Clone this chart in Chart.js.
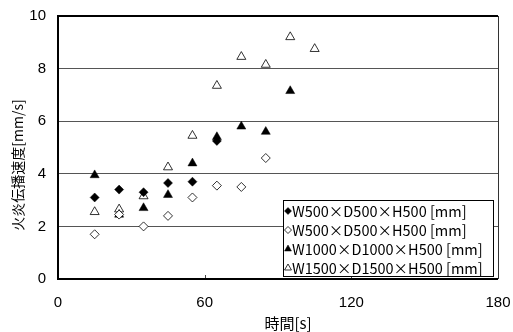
<!DOCTYPE html>
<html>
<head>
<meta charset="utf-8">
<script src="https://cdn.jsdelivr.net/npm/chart.js@4/dist/chart.umd.min.js"></script>
<style>
  body { margin: 0; background: #fff; }
  #wrap { width: 513px; height: 332px; }
</style>
</head>
<body>
<div id="wrap"><canvas id="chart" width="513" height="332"></canvas></div>
<script>
// values
const times = [15, 25, 35, 45, 55, 65, 75, 85, 95, 105];
const w500Filled = [3.1, 3.4, 3.3, 3.65, 3.7, 5.25];
const w500Open = [1.7, 2.45, 2.0, 2.4, 3.1, 3.55, 3.5, 4.6];
const w1000 = [3.95, 2.45, 2.7, 3.2, 4.4, 5.4, 5.8, 5.6, 7.15];
const w1500 = [2.55, 2.65, 3.15, 4.25, 5.45, 7.35, 8.45, 8.15, 9.2, 8.75];

const seriesLabels = [
    'W500×D500×H500 [mm]',
    'W500×D500×H500 [mm]',
    'W1000×D1000×H500 [mm]',
    'W1500×D1500×H500 [mm]'
];
const xTicks = [0, 60, 120, 180];
const yTicks = [0, 2, 4, 6, 8, 10];
const xTitle = '時間[s]';
const yTitle = '火炎伝播速度[mm/s]';

function toPoints(values) {
    return values.map((v, i) => ({ x: times[i], y: v }));
}

function makeSet(label, values, style, filled, radius) {
    return {
        label: label,
        data: toPoints(values),
        pointStyle: style,
        pointRadius: radius,
        pointHoverRadius: radius,
        backgroundColor: filled ? '#000' : '#fff',
        borderColor: '#000',
        pointBorderWidth: filled ? 0.5 : 0.8,
        showLine: false
    };
}

// keep the plot box where the reference has it
function noPadding(s) {
    s.paddingLeft = 0;
    s.paddingRight = 0;
    s.paddingTop = 0;
    s.paddingBottom = 0;
}

// frame, inner ticks, legend box and axis titles
const framePlugin = {
    id: 'frame',
    afterDatasetsDraw(chart) {
        const { ctx, chartArea: a, scales } = chart;
        ctx.save();

        // small tick marks pointing up from the bottom axis
        ctx.strokeStyle = '#444';
        ctx.lineWidth = 1;
        xTicks.slice(1, -1).forEach(t => {
            const x = Math.round(scales.x.getPixelForValue(t)) + 0.5;
            ctx.beginPath();
            ctx.moveTo(x, a.bottom);
            ctx.lineTo(x, a.bottom - 4);
            ctx.stroke();
        });

        // legend box
        const lx = 283, ly = 200, lw = 210, lh = 76;
        ctx.fillStyle = '#fff';
        ctx.fillRect(lx, ly, lw, lh);
        ctx.strokeStyle = '#000';
        ctx.lineWidth = 1;
        ctx.strokeRect(lx + 0.5, ly + 0.5, lw, lh);
        ctx.font = '14.5px "Noto Sans CJK JP"';
        ctx.textBaseline = 'middle';
        ctx.textAlign = 'left';
        chart.data.datasets.forEach((ds, i) => {
            const y = ly + 10 + i * 19;
            ctx.fillStyle = ds.backgroundColor;
            ctx.strokeStyle = '#000';
            ctx.lineWidth = ds.pointBorderWidth;
            Chart.helpers.drawPoint(ctx, {
                pointStyle: ds.pointStyle,
                radius: ds.pointStyle === 'triangle' ? 4 : 3.5,
                borderWidth: ds.pointBorderWidth,
                rotation: 0
            }, lx + 5, y + 1);
            ctx.fillStyle = '#000';
            ctx.fillText(ds.label, lx + 9, y + 1);
        });

        // plot frame
        ctx.strokeStyle = '#000';
        ctx.lineWidth = 2;
        ctx.beginPath();
        ctx.moveTo(a.right, a.top);
        ctx.lineTo(a.left, a.top);
        ctx.lineTo(a.left, a.bottom);
        ctx.lineTo(a.right, a.bottom);
        ctx.stroke();
        ctx.strokeStyle = '#333';
        ctx.lineWidth = 1;
        ctx.beginPath();
        ctx.moveTo(a.right + 0.5, a.top);
        ctx.lineTo(a.right + 0.5, a.bottom);
        ctx.stroke();

        // axis titles
        ctx.fillStyle = '#000';
        ctx.textAlign = 'center';
        ctx.textBaseline = 'middle';
        ctx.font = '15px "Noto Sans CJK JP"';
        ctx.fillText(xTitle, 288, 323);
        ctx.translate(18, 165);
        ctx.rotate(-Math.PI / 2);
        ctx.font = '14px "Noto Sans CJK JP"';
        ctx.fillText(yTitle, 0, 0);
        ctx.restore();
    }
};

Chart.defaults.font.family = '"Liberation Sans", Arial, sans-serif';
Chart.defaults.color = '#000';

new Chart(document.getElementById('chart'), {
    type: 'scatter',
    data: {
        datasets: [
            makeSet(seriesLabels[0], w500Filled, 'rectRot', true, 4.5),
            makeSet(seriesLabels[1], w500Open, 'rectRot', false, 4.5),
            makeSet(seriesLabels[2], w1000, 'triangle', true, 5.2),
            makeSet(seriesLabels[3], w1500, 'triangle', false, 5.2)
        ]
    },
    options: {
        responsive: false,
        animation: false,
        devicePixelRatio: 1,
        layout: { padding: { top: 16, right: 15, left: 0, bottom: 0 } },
        plugins: {
            legend: { display: false },
            tooltip: { enabled: false }
        },
        scales: {
            x: {
                type: 'linear',
                min: 0,
                max: 180,
                afterFit: s => { s.height = 53; noPadding(s); },
                afterBuildTicks: s => { s.ticks = xTicks.map(v => ({ value: v })); },
                ticks: { font: { size: 15 }, padding: 7 },
                grid: { display: false },
                border: { display: false }
            },
            y: {
                min: 0,
                max: 10,
                afterFit: s => { s.width = 58; noPadding(s); },
                afterBuildTicks: s => { s.ticks = yTicks.map(v => ({ value: v })); },
                ticks: { font: { size: 15 }, padding: 12 },
                grid: {
                    drawTicks: false,
                    color: c => (c.tick && (c.tick.value === 0 || c.tick.value === 10)) ? 'rgba(0,0,0,0)' : '#555',
                    lineWidth: 1
                },
                border: { display: false }
            }
        }
    },
    plugins: [framePlugin]
});
</script>
</body>
</html>
